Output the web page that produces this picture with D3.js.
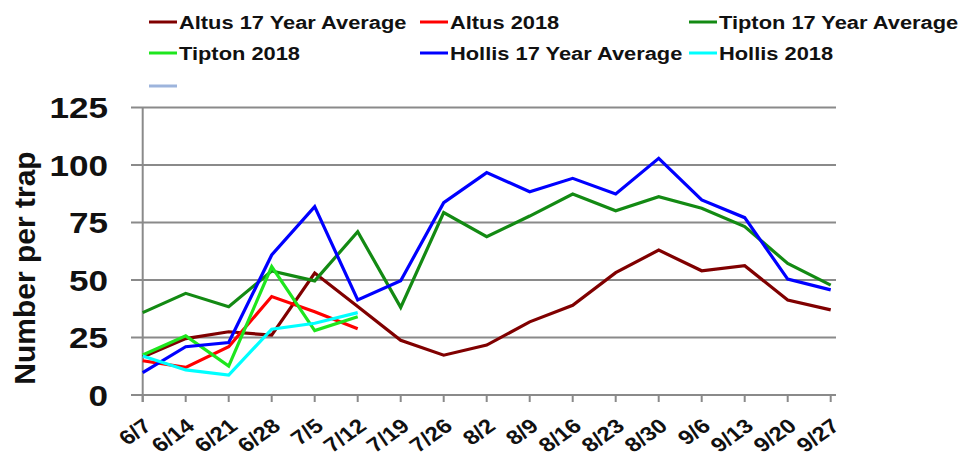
<!DOCTYPE html>
<html>
<head>
<meta charset="utf-8">
<script src="https://cdn.jsdelivr.net/npm/d3@7/dist/d3.min.js"></script>
<style>
html,body{margin:0;padding:0;background:#fff;}
svg{display:block;}
text{font-family:"Liberation Sans",Arial,Helvetica,sans-serif;font-weight:bold;fill:#111;}
</style>
</head>
<body>
<svg id="chart" width="962" height="460"></svg>
<script>
const dates = ["6/7","6/14","6/21","6/28","7/5","7/12","7/19","7/26","8/2","8/9","8/16","8/23","8/30","9/6","9/13","9/20","9/27"];
const yTicks = [0,25,50,75,100,125];
const seriesNames = ["Altus 17 Year Average","Altus 2018","Tipton 17 Year Average","Tipton 2018","Hollis 17 Year Average","Hollis 2018",""];
const seriesColors = ["#800000","#ff0000","#138a13","#1ee61e","#0000ff","#00ffff","#9db4dc"];
const altusAvg  = [16.5,24.5,27.5,26,53,38.5,23.8,17.3,21.7,31.8,39,53.2,63,54,56.2,41.3,37];
const altus2018 = [14.9,12,21,42.8,36.2,28.8];
const tiptonAvg = [35.8,44.2,38.4,53.9,49.6,71,38.1,79.3,68.8,77.8,87.4,80.1,86.2,81.2,73.2,57.2,47.8];
const tipton2018= [17.4,25.7,12.6,55.8,28,34];
const hollisAvg = [9.7,21,22.8,60.9,81.9,41.3,49.7,83.6,96.7,88.4,94.2,87.4,102.9,84.8,77.1,50.4,45.7];
const hollis2018= [17,10.9,8.7,28.6,31.2,35.8];
const blankSeries = [];
const seriesData = [altusAvg, altus2018, tiptonAvg, tipton2018, hollisAvg, hollis2018, blankSeries];
const yTitle = "Number per trap";

const svg = d3.select("#chart");
const x = d3.scalePoint().domain(dates).range([142.7, 830.7]);
const y = d3.scaleLinear().domain([0,125]).range([395, 107.5]);

// gridlines
svg.append("g").selectAll("line").data(yTicks).join("line")
  .attr("x1", 131).attr("x2", 836)
  .attr("y1", d => y(d)).attr("y2", d => y(d))
  .attr("stroke", "#8a8a8a").attr("stroke-width", 2);

// y axis line
svg.append("line").attr("x1", x(dates[0])).attr("x2", x(dates[0]))
  .attr("y1", y(125)).attr("y2", y(0)+7)
  .attr("stroke", "#8a8a8a").attr("stroke-width", 2);

// x ticks
svg.append("g").selectAll("line").data(dates).join("line")
  .attr("x1", d => x(d)).attr("x2", d => x(d))
  .attr("y1", y(0)).attr("y2", y(0)+7)
  .attr("stroke", "#8a8a8a").attr("stroke-width", 2);

// y tick labels
svg.append("g").selectAll("text").data(yTicks).join("text")
  .attr("transform", d => `translate(108,${y(d)}) scale(1.17,1)`)
  .attr("text-anchor", "end").attr("dominant-baseline", "central")
  .style("font-size", "30px")
  .text(d => d);

// x tick labels
svg.append("g").selectAll("text").data(dates).join("text")
  .attr("transform", d => `translate(${x(d)+5},${y(0)+28}) scale(1.2,1) rotate(-40)`)
  .attr("text-anchor", "end").attr("dominant-baseline", "central")
  .style("font-size", "20px")
  .text(d => d);

// y title
svg.append("text")
  .attr("transform", "translate(35,268) rotate(-90)")
  .attr("text-anchor", "middle")
  .style("font-size", "30px")
  .text(yTitle);

// lines
const line = d3.line().x((d,i) => x(dates[i])).y(d => y(d));
svg.append("g").selectAll("path").data(seriesData.map((d,i)=>({d,i})).filter(o=>o.d.length)).join("path")
  .attr("d", o => line(o.d))
  .attr("fill", "none").attr("stroke", o => seriesColors[o.i])
  .attr("stroke-width", 3.2).attr("stroke-linejoin", "miter");

// legend
const colX = [149, 420, 689];
const rowY = [22, 53, 86];
const leg = svg.append("g").selectAll("g").data(seriesNames.map((n,i)=>({n,i}))).join("g")
  .attr("transform", o => `translate(${colX[o.i%3]},${rowY[Math.floor(o.i/3)]})`);
leg.append("line").attr("x1", 0).attr("x2", 28).attr("y1", 0).attr("y2", 0)
  .attr("stroke", o => seriesColors[o.i]).attr("stroke-width", 3);
leg.append("text")
  .attr("transform", `translate(30,0) scale(1.15,1)`)
  .attr("dominant-baseline", "central")
  .style("font-size", "19px")
  .text(o => o.n);
</script>
</body>
</html>
